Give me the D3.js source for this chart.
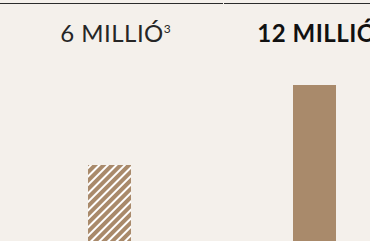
<!DOCTYPE html>
<html>
<head>
<meta charset="utf-8">
<script src="https://cdn.jsdelivr.net/npm/d3@7"></script>
<style>
  html, body { margin: 0; padding: 0; background: #f4f0eb; overflow: hidden; }
</style>
</head>
<body>
<div id="chart"></div>
<script>
// data
const categories = ["6 MILLIÓ", "12 MILLIÓ"];
const values = [6, 12];
const footnotes = ["3", ""];
const hatched = [true, false];
const bold = [false, true];

const width = 370, height = 241;
const barColor = "#a98a6b";

const svg = d3.select("#chart").append("svg")
  .attr("width", width)
  .attr("height", height)
  .style("display", "block");

svg.append("rect").attr("width", width).attr("height", height).attr("fill", "#f4f0eb");

// hatch pattern, stripes running up to the right
let defs = svg.append("defs");
let pat = defs.append("pattern")
  .attr("id", "hatch")
  .attr("patternUnits", "userSpaceOnUse")
  .attr("width", 6)
  .attr("height", 6)
  .attr("patternTransform", "rotate(45)");
pat.append("rect").attr("width", 6).attr("height", 6).attr("fill", barColor);
pat.append("rect").attr("x", 0).attr("width", 2).attr("height", 6).attr("fill", "#ffffff");

// top rule
svg.append("line").attr("x1", 0).attr("x2", 223).attr("y1", 3.5).attr("y2", 3.5)
  .attr("stroke", "#2b2b2b").attr("stroke-width", 1.2);
svg.append("line").attr("x1", 224).attr("x2", width).attr("y1", 3.5).attr("y2", 3.5)
  .attr("stroke", "#2b2b2b").attr("stroke-width", 1.2);

let x = d3.scalePoint().domain(categories).range([109.5, 314.5]);
let y = d3.scaleLinear().domain([0, 12]).range([245, 85]);
let barW = 43;

svg.append("g").selectAll("rect")
  .data(categories)
  .enter()
  .append("rect")
    .attr("x", d => x(d) - barW / 2)
    .attr("y", (d, i) => y(values[i]))
    .attr("width", barW)
    .attr("height", (d, i) => y(0) - y(values[i]))
    .attr("fill", (d, i) => hatched[i] ? "url(#hatch)" : barColor);

let labels = svg.append("g");
categories.forEach((d, i) => {
  let t = labels.append("text")
    .attr("x", x(d) + 2.5)
    .attr("y", 42)
    .attr("text-anchor", "middle")
    .attr("font-family", "Lato, 'Open Sans', sans-serif")
    .attr("font-size", 24)
    .attr("letter-spacing", 0.5)
    .attr("font-weight", bold[i] ? 700 : 400)
    .attr("fill", bold[i] ? "#111" : "#262626")
    .text(d);
  let len = t.node().getComputedTextLength();
  labels.append("text")
    .attr("x", x(d) + 2.5 + len / 2)
    .attr("y", 33)
    .attr("font-family", "Lato, 'Open Sans', sans-serif")
    .attr("font-size", 12)
    .attr("fill", "#262626")
    .text(footnotes[i]);
});
</script>
</body>
</html>
